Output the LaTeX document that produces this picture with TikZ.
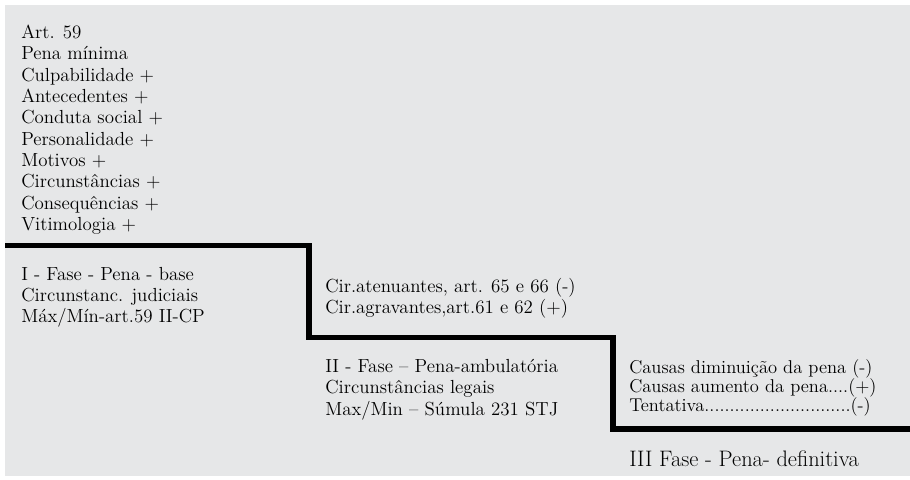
\documentclass[tikz,border=0pt]{standalone}
\usepackage{fontspec}
\definecolor{paper}{HTML}{E6E7E8}

\begin{document}
\begin{tikzpicture}[x=.75pt,y=-.75pt,font=\fontsize{14.2}{16}\selectfont,
 txt/.style={anchor=base west,align=left,inner sep=0pt},
 stair/.style={draw=black,line width=4.1pt}]
\path[use as bounding box] (0,0) rectangle (910,479);
\fill[paper] (5,5) rectangle (910,476);
% staircase of the three phases
\coordinate (s0) at (5,245.5);
\coordinate (s1) at (309,245.5);
\coordinate (s2) at (309,337.5);
\coordinate (s3) at (613,337.5);
\coordinate (s4) at (613,429);
\coordinate (s5) at (910,429);
\draw[stair] (s0) -- (s1) -- (s2) -- (s3) -- (s4) -- (s5);
% text above each step (base = last line)
\node[txt] (crit) at (21,230.5) {Art. 59\\Pena mínima\\Culpabilidade +\\Antecedentes +\\Conduta social +\\Personalidade +\\Motivos +\\Circunstâncias +\\Consequências +\\Vitimologia +};
\node[txt] (fase1) at (21,322.7) {I - Fase - Pena - base\\Circunstanc. judiciais\\Máx/Mín-art.59 II-CP};
\node[txt,font=\fontsize{14.2}{15.5}\selectfont] (circ) at (325,313.3) {Cir.atenuantes, art. 65 e 66 (-)\\Cir.agravantes,art.61 e 62 (+)};
\node[txt] (fase2) at (325,415) {II - Fase – Pena-ambulatória\\Circunstâncias legais\\Max/Min – Súmula 231 STJ};
\node[txt,font=\fontsize{13.9}{14.3}\selectfont] (causas) at (629,411.7) {Causas diminuição da pena (-)\\Causas aumento da pena....(+)\\Tentativa.............................(-)};
\node[txt,font=\fontsize{16.8}{19}\selectfont] (fase3) at (629,466) {III Fase - Pena- definitiva};
\end{tikzpicture}
\end{document}
